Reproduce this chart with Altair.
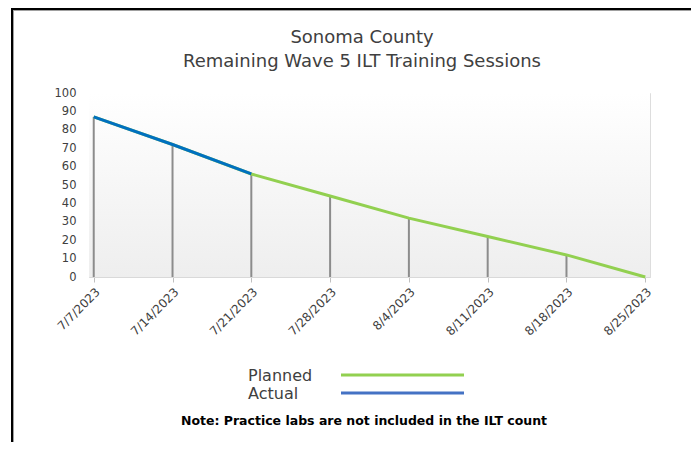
import altair as alt
import pandas as pd

# ---------------- data ----------------
dates = ["7/7/2023", "7/14/2023", "7/21/2023", "7/28/2023",
         "8/4/2023", "8/11/2023", "8/18/2023", "8/25/2023"]
planned = [87, 72, 56, 44, 32, 22, 12, 0]
actual = [87, 72, 56]
series_names = ["Planned", "Actual"]
line_colors = ["#92D050", "#0070C0"]
legend_colors = ["#92D050", "#4472C4"]
title_lines = ["Sonoma County", "Remaining Wave 5 ILT Training Sessions"]
note_text = "Note: Practice labs are not included in the ILT count"
y_ticks = list(range(0, 101, 10))

planned_df = pd.DataFrame({"date": dates, "value": planned, "series": series_names[0]})
actual_df = pd.DataFrame({"date": dates[:len(actual)], "value": actual, "series": series_names[1]})
drop_df = planned_df[planned_df["value"] > 0]
one = pd.DataFrame({"k": [0]})

# ---------------- layout ----------------
W, H = 561, 184
PAD_L, PAD_T = 81, 85
TOTAL_W, TOTAL_H = 683, 434
FONT = "DejaVu Sans"
TXT = "#404040"

x_enc = alt.X(
    "date:O", sort=dates,
    scale=alt.Scale(type="point", padding=0.06, domain=dates),
    axis=alt.Axis(title=None, labelAngle=-45, labelFontSize=12, labelFont=FONT,
                  labelColor=TXT, labelPadding=4, domainColor="#d9d9d9",
                  tickColor="#bfbfbf", tickSize=5, grid=False),
)
y_enc = alt.Y(
    "value:Q", scale=alt.Scale(domain=[0, 100], nice=False),
    axis=alt.Axis(title=None, values=y_ticks, labelFontSize=11.5, labelFont=FONT,
                  labelColor=TXT, labelPadding=13, domain=False, ticks=False, grid=False),
)

# plot-area gradient background
bg = alt.Chart(one).mark_rect(
    fill=alt.LinearGradient(gradient="linear", x1=0, x2=0, y1=0, y2=1,
                            stops=[alt.GradientStop(color="#ffffff", offset=0),
                                   alt.GradientStop(color="#eeeeee", offset=1)])
).encode(x=alt.value(0), x2=alt.value(W), y=alt.value(0), y2=alt.value(H))

drops = alt.Chart(drop_df).mark_rule(color="#8c8c8c", strokeWidth=2).encode(
    x=x_enc, y=y_enc, y2=alt.datum(0))

planned_line = alt.Chart(planned_df).mark_line(color=line_colors[0], strokeWidth=3).encode(
    x=x_enc, y=y_enc)
actual_line = alt.Chart(actual_df).mark_line(color=line_colors[1], strokeWidth=3).encode(
    x=x_enc, y=y_enc)

# titles
title1 = alt.Chart(one).mark_text(font=FONT, fontSize=18, color=TXT, align="center",
                                  baseline="alphabetic").encode(
    x=alt.value(273), y=alt.value(-50), text=alt.value(title_lines[0]))
title2 = alt.Chart(one).mark_text(font=FONT, fontSize=18, color=TXT, align="center",
                                  baseline="alphabetic").encode(
    x=alt.value(273), y=alt.value(-26), text=alt.value(title_lines[1]))

# legend (labels left of line swatches)
legend_layers = []
for i, (name, col) in enumerate(zip(series_names, legend_colors)):
    base_y = 288 + i * 18
    legend_layers.append(
        alt.Chart(one).mark_text(font=FONT, fontSize=16, color=TXT, align="left",
                                 baseline="alphabetic").encode(
            x=alt.value(159), y=alt.value(base_y), text=alt.value(name)))
    legend_layers.append(
        alt.Chart(one).mark_rule(color=col, strokeWidth=3).encode(
            x=alt.value(252), x2=alt.value(375), y=alt.value(base_y - 6)))

note = alt.Chart(one).mark_text(font=FONT, fontSize=12.5, fontWeight="bold", color="#000000",
                                align="center", baseline="alphabetic").encode(
    x=alt.value(275), y=alt.value(332), text=alt.value(note_text))

# outer frame (black line with grey inner shade)
frame = [
    alt.Chart(one).mark_rule(color="#000000", strokeWidth=2).encode(
        x=alt.value(-77), y=alt.value(-84), y2=alt.value(TOTAL_H)),
    alt.Chart(one).mark_rule(color="#a0a0a0", strokeWidth=1).encode(
        x=alt.value(-75.5), y=alt.value(-82.5), y2=alt.value(TOTAL_H)),
    alt.Chart(one).mark_rule(color="#000000", strokeWidth=2).encode(
        x=alt.value(-78), x2=alt.value(TOTAL_W), y=alt.value(-84)),
    alt.Chart(one).mark_rule(color="#a0a0a0", strokeWidth=1).encode(
        x=alt.value(-76), x2=alt.value(TOTAL_W), y=alt.value(-82.5)),
]

chart = alt.layer(
    bg, drops, planned_line, actual_line, title1, title2, *legend_layers, note, *frame
).properties(
    width=W, height=H,
    autosize=alt.AutoSizeParams(type="none"),
    padding={"left": PAD_L, "top": PAD_T,
             "right": TOTAL_W - PAD_L - W, "bottom": TOTAL_H - PAD_T - H},
).configure_view(stroke=None).configure(background="#ffffff")

chart.save("out.html", embed_options={"renderer": "svg", "actions": False})
